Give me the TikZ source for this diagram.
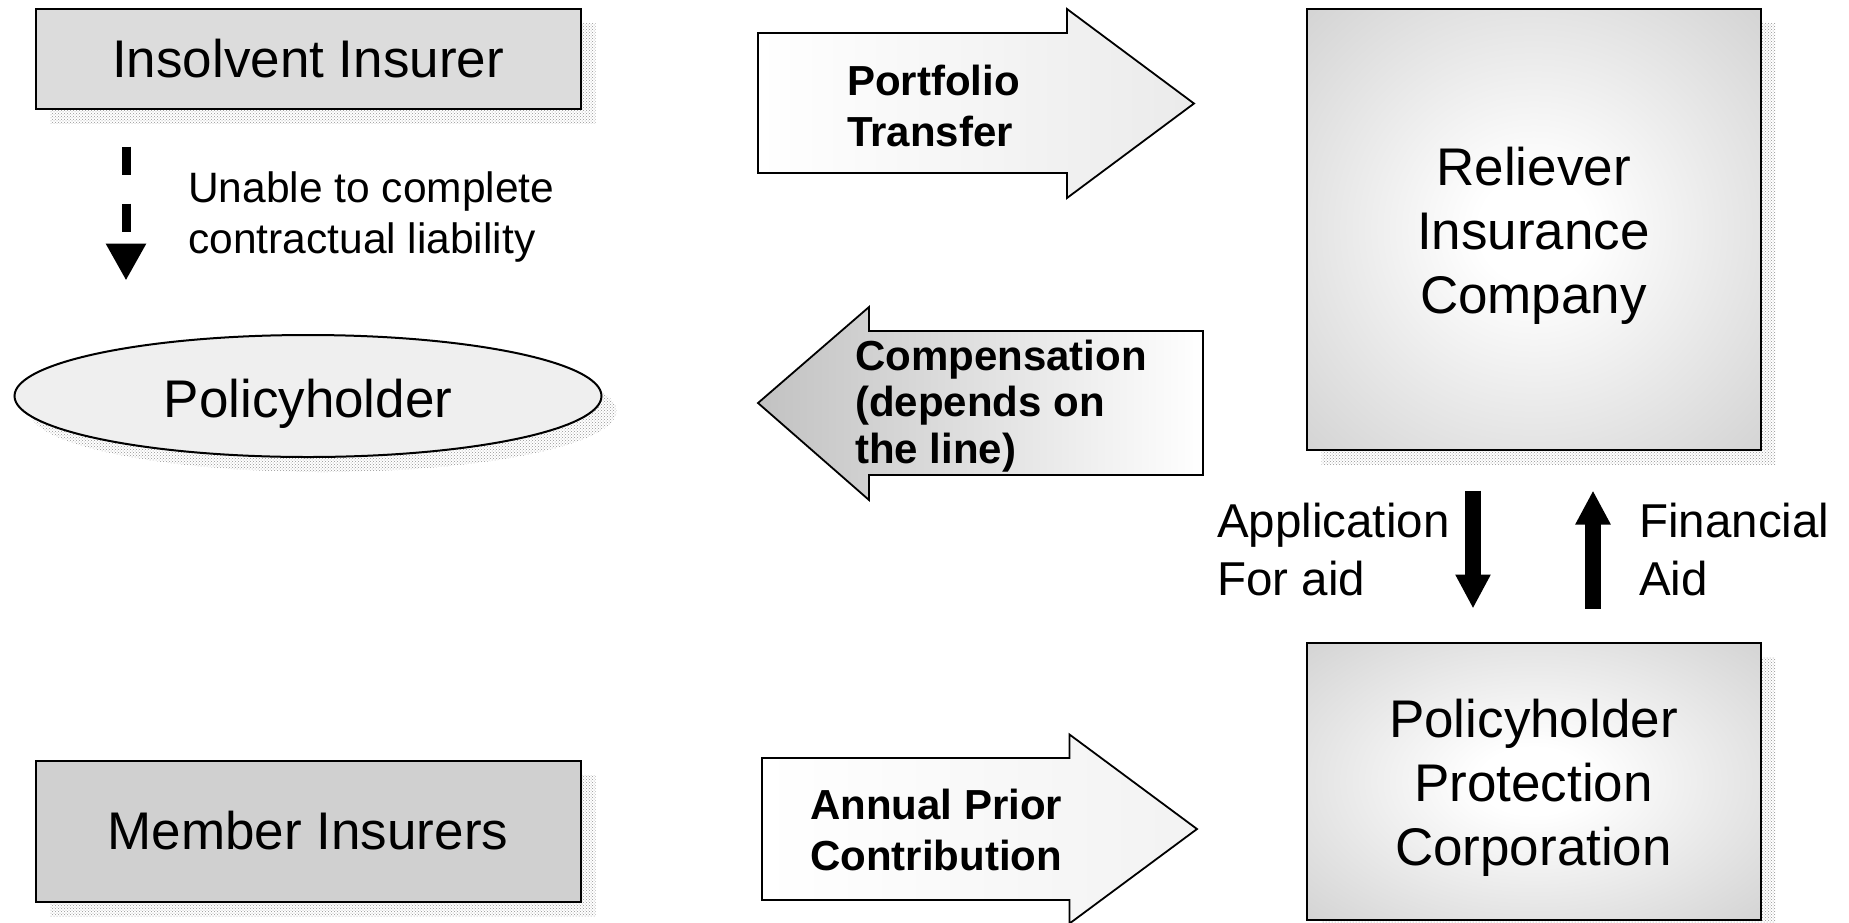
\documentclass[tikz,border=0pt]{standalone}
\usepackage{fontspec}
\setmainfont{Liberation Sans}
\usetikzlibrary{arrows.meta,shapes.geometric,shadows,patterns,calc}

\definecolor{boxgray}{HTML}{DCDCDC}
\definecolor{membergray}{HTML}{D0D0D0}
\definecolor{ellipsegray}{HTML}{EFEFEF}
\definecolor{edgegray}{HTML}{D3D3D3}

% white centre fading to grey towards the box edges
\pgfdeclareradialshading{centerglow}{\pgfpoint{0bp}{0bp}}{%
  color(0bp)=(white); color(6bp)=(white); color(36bp)=(edgegray); color(80bp)=(edgegray)}

\newcommand{\fntBox}{\fontsize{53pt}{64pt}\selectfont}
\newcommand{\fntNote}{\fontsize{42.5pt}{51pt}\selectfont}
\newcommand{\fntAid}{\fontsize{47.5pt}{58pt}\selectfont}
\newcommand{\fntBand}{\bfseries\fontsize{42pt}{51pt}\selectfont}
\newcommand{\fntBandTight}{\bfseries\fontsize{42pt}{46.5pt}\selectfont}

\tikzset{
  dotshadow/.style={drop shadow={shadow xshift=15pt, shadow yshift=-15pt,
      opacity=1, fill=none, pattern=crosshatch dots, pattern color=black!42}},
  box/.style={draw=black, line width=2pt, inner sep=0pt, align=center, font=\fntBox},
  boxtext/.style={inner sep=0pt, align=center, font=\fntBox},
  blockarrow/.style={draw=black, line width=1.8pt, line join=miter},
  bandtext/.style={anchor=west, inner sep=0pt, align=left, font=\fntBand},
  notetext/.style={anchor=west, inner sep=0pt, align=left},
  flowarrow/.style={line width=16pt, -{Triangle[width=33pt,length=34pt]}},
}

\begin{document}
\begin{tikzpicture}[x=1pt, y=-1pt]
\useasboundingbox (0,0) rectangle (1849,922);

% left column
\node[box, fill=boxgray, dotshadow, minimum width=545pt, minimum height=100pt]
  (insolvent) at (308,58.5) {Insolvent Insurer};
\node[ellipse, draw=black, line width=2pt, fill=ellipsegray, dotshadow,
  minimum width=587pt, minimum height=122pt, inner sep=0pt, font=\fntBox,
  text height=53pt, text depth=11pt]
  (holder) at (308,396) {Policyholder};
\node[box, fill=membergray, dotshadow, minimum width=545pt, minimum height=141pt]
  (member) at (308,831) {Member Insurers};

% right column: boxes, then their titles
\node[box, shading=centerglow, dotshadow, minimum width=454pt, minimum height=441pt]
  (reliever) at (1533.5,229) {};
\node[boxtext] (relievername) at ($(reliever.center)+(0,6.5)$)
  {Reliever\\Insurance\\Company};
\node[box, shading=centerglow, dotshadow, minimum width=454pt, minimum height=277pt]
  (ppc) at (1533.5,781) {};
\node[boxtext] (ppcname) at ($(ppc.center)+(0,7)$)
  {Policyholder\\Protection\\Corporation};

% insolvent insurer -> policyholder
\draw[line width=9pt, dash pattern=on 28pt off 29pt,
      -{Triangle[width=38pt,length=37pt]}]
  ($(insolvent.south)+(-182,37)$) -- ($(insolvent.south)+(-182,171)$);
\node[notetext, font=\fntNote] (unable) at (188,217.5)
  {Unable to complete\\contractual liability};

% reliever <-> protection corporation
\draw[flowarrow] ($(reliever.south)+(-60.5,40)$) -- ($(ppc.north)+(-60.5,-33)$);
\draw[flowarrow] ($(ppc.north)+(59.5,-33)$) -- ($(reliever.south)+(59.5,40)$);
\node[notetext, font=\fntAid] (applabel) at (1217,550) {Application\\For aid};
\node[notetext, font=\fntAid] (aidlabel) at (1639,550) {Financial\\Aid};

% block arrows in the middle column
\path[blockarrow, left color=white, right color=black!8]
  (758,33) -- (1067,33) -- (1067,9) -- (1194,103.5) -- (1067,198)
  -- (1067,173) -- (758,173) -- cycle;
\node[bandtext] (portfolio) at (847,106) {Portfolio\\Transfer};

\path[blockarrow, left color=black!24, right color=white]
  (758,403) -- (869,307) -- (869,331) -- (1203,331) -- (1203,475)
  -- (869,475) -- (869,500) -- cycle;
\node[bandtext, font=\fntBandTight] (compensation) at (855,406)
  {Compensation\\(depends on\\the line)};

\path[blockarrow, left color=white, right color=black!5]
  (762,758) -- (1069.5,758) -- (1069.5,734.5) -- (1197,829) -- (1069.5,923.5)
  -- (1069.5,900) -- (762,900) -- cycle;
\node[bandtext] (annual) at (810,830) {Annual Prior\\Contribution};
\end{tikzpicture}
\end{document}
